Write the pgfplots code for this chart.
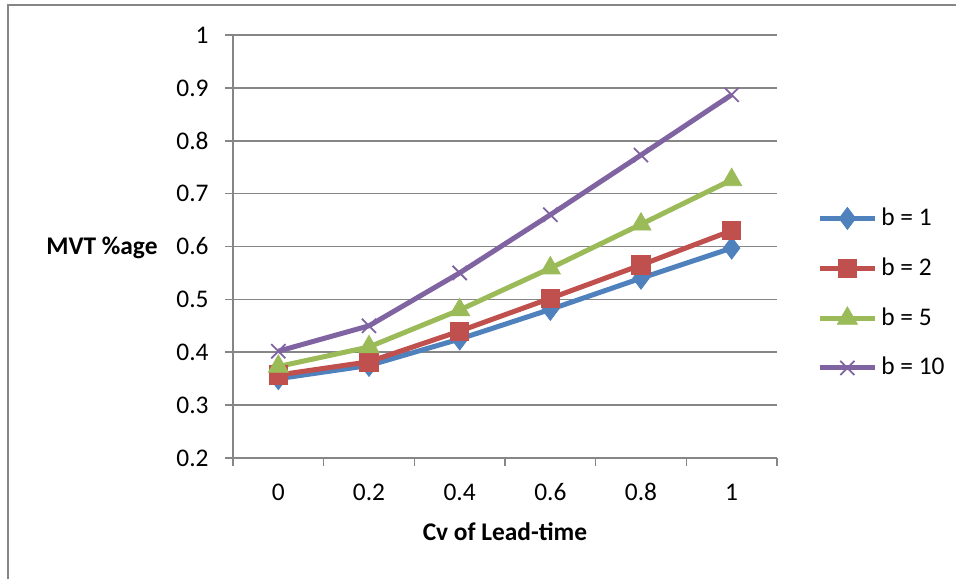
\documentclass[border=0pt]{standalone}
\usepackage{pgfplots}
\pgfplotsset{compat=1.18}
\usepackage{fontspec}
\setmainfont{Carlito}
\definecolor{s1}{HTML}{4F81BD}
\definecolor{s2}{HTML}{C0504D}
\definecolor{s3}{HTML}{9BBB59}
\definecolor{s4}{HTML}{8064A2}
\definecolor{axgray}{RGB}{134,134,134}
\begin{document}
\fontsize{12.7}{15}\selectfont
\begin{tikzpicture}[x=1pt,y=1pt]
\useasboundingbox (0,0) rectangle (478,289.5);
\draw[axgray, line width=1pt] (4,0) -- (4,287) -- (478,287);
\begin{axis}[
  at={(116.5pt,60.5pt)}, anchor=south west,
  scale only axis, width=272pt, height=211.5pt,
  xmin=-0.5, xmax=5.5, ymin=0.2, ymax=1,
  clip=false,
  axis x line*=bottom, axis y line*=left,
  axis line style={axgray, line width=0.8pt, -},
  xtick={-0.5,0.5,1.5,2.5,3.5,4.5,5.5},
  x tick label as interval,
  xticklabels={0,0.2,0.4,0.6,0.8,1},
  ytick={0.2,0.3,0.4,0.5,0.6,0.7,0.8,0.9,1},
  yticklabels={0.2,0.3,0.4,0.5,0.6,0.7,0.8,0.9,1},
  tick align=outside, major tick length=4pt,
  tick style={axgray, line width=0.8pt},
  ymajorgrids, grid style={axgray, line width=0.8pt},
  xticklabel style={anchor=base, inner sep=0pt, yshift=-17pt},
  yticklabel style={anchor=east, inner sep=0pt, xshift=-8pt},
  xlabel={\bfseries Cv of Lead-time},
  xlabel style={at={(axis description cs:0.5,-0.194)}, anchor=base, inner sep=0pt},
  ylabel={\bfseries MVT \%age},
  ylabel style={rotate=-90, at={(axis description cs:-0.138,0.48)}, anchor=base east, inner sep=0pt},
  legend cell align=left,
  legend image code/.code={\draw[mark repeat=2,mark phase=2,#1] plot coordinates {(0pt,0pt) (13.75pt,0pt) (27.5pt,0pt)};},
  legend style={draw=none, fill=none, inner sep=0pt,
    at={(axis description cs:1.0735,0.39)}, anchor=west,
    nodes={inner sep=0pt}, row sep=14pt,
    /tikz/every odd column/.append style={column sep=2pt}},
]
\addplot[s1, line width=2.5pt, mark=diamond*, mark size=5.5pt, mark options={solid, line width=0.4pt}]
  coordinates {(0,0.350)(1,0.375)(2,0.425)(3,0.481)(4,0.540)(5,0.597)};
\addlegendentry{b = 1}
\addplot[s2, line width=2.5pt, mark=square*, mark size=4.6pt, mark options={solid, line width=0.4pt}]
  coordinates {(0,0.357)(1,0.382)(2,0.440)(3,0.502)(4,0.565)(5,0.630)};
\addlegendentry{b = 2}
\addplot[s3, line width=2.5pt, mark=triangle*, mark size=5.8pt, mark options={solid, line width=0.4pt}]
  coordinates {(0,0.373)(1,0.410)(2,0.480)(3,0.559)(4,0.642)(5,0.726)};
\addlegendentry{b = 5}
\addplot[s4, line width=2.5pt, mark=x, mark size=5pt, mark options={solid, line width=0.9pt}]
  coordinates {(0,0.402)(1,0.450)(2,0.550)(3,0.660)(4,0.773)(5,0.887)};
\addlegendentry{b = 10}
\end{axis}
\end{tikzpicture}
\end{document}
